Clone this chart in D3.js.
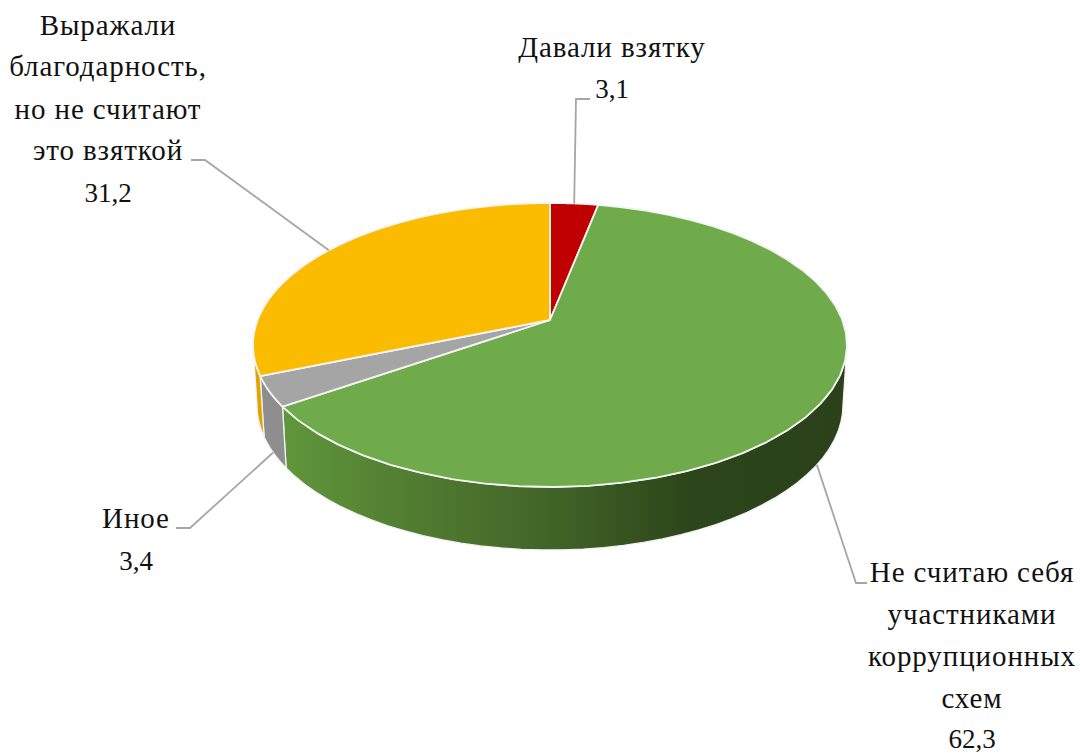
<!DOCTYPE html>
<html><head><meta charset="utf-8">
<script src="https://cdn.jsdelivr.net/npm/d3@7/dist/d3.min.js"></script>
<style>html,body{margin:0;padding:0;background:#fff}svg{display:block}
text{font-family:"Liberation Serif",serif;font-size:29px;letter-spacing:.9px;fill:#111;text-anchor:middle}
text.val{font-size:27px;letter-spacing:0}</style>
</head><body><svg id="c" width="1080" height="753"></svg>
<script>
const categories=["Давали взятку","Не считаю себя участниками коррупционных схем","Иное","Выражали благодарность, но не считают это взяткой"];
const values=[3.1,62.3,3.4,31.2];
const valueLabels=["3,1","62,3","3,4","31,2"];
const topColors=["#C00000","#6FAB4A","#A5A5A5","#FBBC00"];
const wallFills=["#8a0000","url(#gw)","#8e8e8e","#e0a400"];

const svg=d3.select("#c");
const cx=550, cyTop=345, rxTop=297, ryTop=142, cyBot=405, rxBot=293, ryBot=145, tilt=-0.176;
function proj(a,r,k){
  const x=r*Math.sin(a), y=-r*Math.cos(a), den=1+tilt*y;
  const X=x*Math.sqrt(1-tilt*tilt)/den, Y=(y+tilt)/den;
  return k==="top"?[cx+rxTop*X,cyTop+ryTop*Y]:[cx+rxBot*X,cyBot+ryBot*Y];
}
const arcs=d3.pie().sort(null).value(d=>d)(values);
const line=d3.line();
const steps=(a0,a1)=>d3.range(0,41).map(i=>a0+(a1-a0)*i/40);

const defs=svg.append("defs");
const g=defs.append("linearGradient").attr("id","gw").attr("gradientUnits","userSpaceOnUse")
 .attr("x1",285).attr("x2",848).attr("y1",0).attr("y2",0);
[[0,"#60963b"],[.25,"#4f7a30"],[.5,"#3f6126"],[.72,"#2c451a"],[1,"#2a4119"]].forEach(s=>g.append("stop").attr("offset",s[0]).attr("stop-color",s[1]));

const vis0=Math.acos(tilt), vis1=2*Math.PI-Math.acos(tilt);
const walls=svg.append("g");
arcs.forEach((d,i)=>{
  const a0=Math.max(d.startAngle,vis0), a1=Math.min(d.endAngle,vis1);
  if(a1<=a0) return;
  const t=steps(a0,a1);
  const pts=t.map(a=>proj(a,1,"top")).concat(t.slice().reverse().map(a=>proj(a,1,"bot")));
  walls.append("path").attr("d",line(pts)+"Z").attr("fill",wallFills[i])
    .attr("stroke","#f2f2f2").attr("stroke-width",1.3).attr("stroke-linejoin","round");
});
const tops=svg.append("g");
arcs.forEach((d,i)=>{
  const apex=proj(0,0,"top");
  const pts=[apex].concat(steps(d.startAngle,d.endAngle).map(a=>proj(a,1,"top")));
  tops.append("path").attr("d",line(pts)+"Z").attr("fill",topColors[i])
    .attr("stroke","#f4f4f4").attr("stroke-width",1.8).attr("stroke-linejoin","round");
});

const mid=arcs.map(d=>(d.startAngle+d.endAngle)/2);
const leaders=[
 [proj(mid[0],1,"top"),[576,99],[590,99]],
 [proj(mid[1],1,"bot"),[856,583],[867,583]],
 [proj(mid[2],1,"bot"),[190,528],[176,528]],
 [proj(mid[3],1,"top"),[205,160],[191,160]]
];
leaders.forEach(l=>svg.append("path").attr("d",line(l)).attr("fill","none").attr("stroke","#a6a6a6").attr("stroke-width",1.8));

const labelLines=[["Давали взятку"],["Не считаю себя","участниками","коррупционных","схем"],["Иное"],["Выражали","благодарность,","но не считают","это взяткой"]];
const labelX=[612,972,136,108];
const labelY=[[57,98],[582,624,666,708,748],[528,570],[35,76,119,160,202]];
labelLines.forEach((ls,i)=>{
  ls.forEach((s,j)=>svg.append("text").attr("x",labelX[i]).attr("y",labelY[i][j]).text(s));
  svg.append("text").attr("class","val").attr("x",labelX[i]).attr("y",labelY[i][ls.length]).text(valueLabels[i]);
});
</script></body></html>
